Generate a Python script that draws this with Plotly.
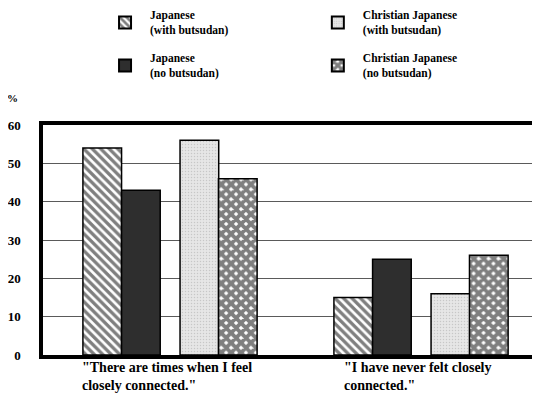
import plotly.graph_objects as go

categories = ['"There are times when I feel<br>closely connected."',
              '"I have never felt closely<br>connected."']
cat_keys = ["c1", "c2"]
series_names = ["Japanese<br>(with butsudan)", "Japanese<br>(no butsudan)",
                "Christian Japanese<br>(with butsudan)", "Christian Japanese<br>(no butsudan)"]
jp_with = [54, 15]
jp_no = [43, 25]
cj_with = [56, 16]
cj_no = [46, 26]
y_ticks = [0, 10, 20, 30, 40, 50, 60]

FONT = "Liberation Serif"
values = [jp_with, jp_no, cj_with, cj_no]
offsets = [-0.347, -0.193, 0.040, 0.193]
width = 0.154
styles = [
    dict(color="white", pattern=dict(shape="\\", fgcolor="black", bgcolor="white", size=6, solidity=0.55)),
    dict(color="#2e2e2e"),
    dict(color="#e4e4e4", pattern=dict(shape=".", fgcolor="#a8a8a8", bgcolor="#e6e6e6", size=3, solidity=0.2)),
    dict(color="white", pattern=dict(shape="x", fgcolor="black", bgcolor="white", size=7, solidity=0.8)),
]
legends = ["legend", "legend", "legend2", "legend2"]

fig = go.Figure()
for i in range(4):
    fig.add_trace(go.Bar(
        x=cat_keys, y=values[i], name=series_names[i],
        offset=offsets[i], width=width,
        marker=dict(line=dict(color="black", width=1.5), **styles[i]),
        legend=legends[i], legendgroup=f"g{i}",
    ))

annotations = [
    dict(x=cat_keys[0], y=0, xref="x", yref="y", text=categories[0], showarrow=False,
         xanchor="left", yanchor="top", align="left", xshift=-90, yshift=-3,
         font=dict(family=FONT, size=14, color="black", weight="bold")),
    dict(x=cat_keys[1], y=0, xref="x", yref="y", text=categories[1], showarrow=False,
         xanchor="left", yanchor="top", align="left", xshift=-79, yshift=-3,
         font=dict(family=FONT, size=14, color="black", weight="bold")),
    dict(x=-0.062, y=1.117, xref="paper", yref="paper", text="<b>%</b>", showarrow=False,
         xanchor="center", yanchor="middle", font=dict(family=FONT, size=11, color="black")),
]

legend_common = dict(
    xref="container", yref="paper", yanchor="top", xanchor="left",
    font=dict(family=FONT, size=11.5, color="black", weight="bold"), bgcolor="rgba(0,0,0,0)",
    traceorder="grouped", tracegroupgap=10, itemwidth=40, itemsizing="constant",
)

fig.update_layout(
    width=532, height=392,
    margin=dict(l=35, r=0, t=117, b=45, autoexpand=False),
    plot_bgcolor="white", paper_bgcolor="white",
    barmode="overlay",
    showlegend=True,
    legend=dict(x=0.173, y=1.539, **legend_common),
    legend2=dict(x=0.573, y=1.539, **legend_common),
    xaxis=dict(type="category", range=[-0.506, 1.474], showticklabels=False, ticks="",
               showline=True, linecolor="black", linewidth=3.5, mirror=True, showgrid=False,
               zeroline=False),
    yaxis=dict(range=[0, 60], tickvals=y_ticks, showline=True, linecolor="black", linewidth=3.5,
               showgrid=True, gridcolor="#5a5a5a", gridwidth=1, zeroline=False, ticks="",
               ticklabelstandoff=16,
               tickfont=dict(family=FONT, size=13, color="black", weight="bold")),
    annotations=annotations,
)

fig.write_html("out.html")
